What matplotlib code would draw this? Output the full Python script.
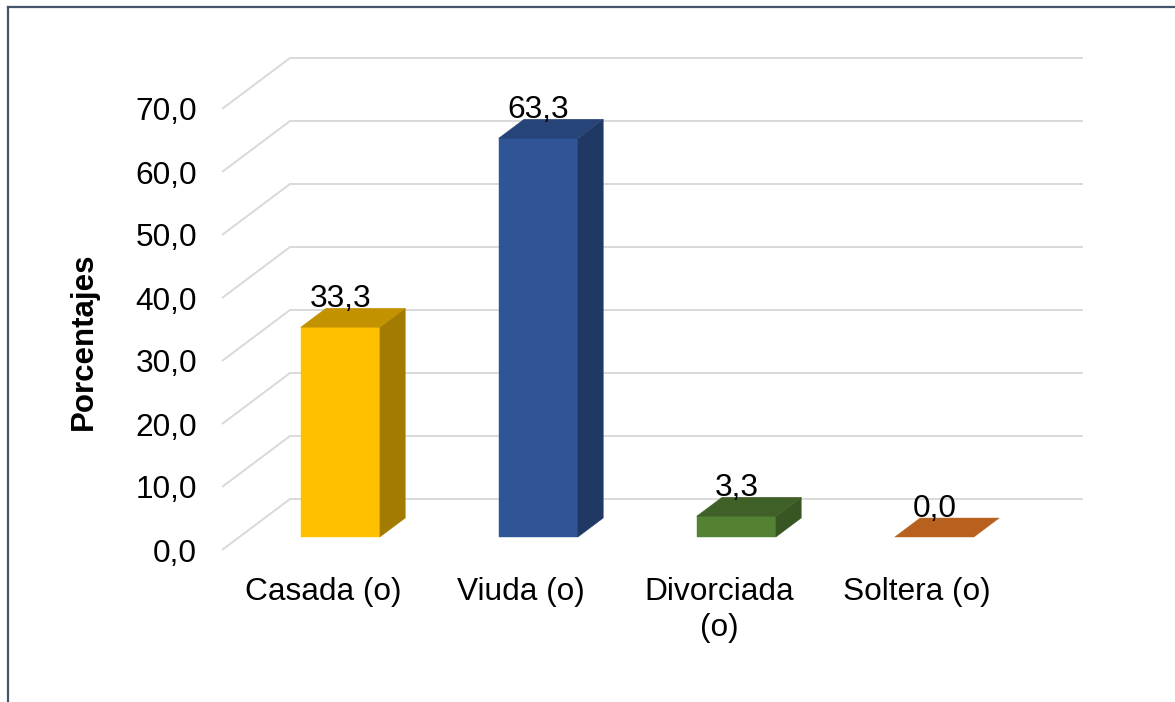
import matplotlib
matplotlib.use("Agg")
import matplotlib.pyplot as plt
from matplotlib.patches import Polygon
from matplotlib.lines import Line2D
import numpy as np

# ---- data ----
categories = ["Casada (o)", "Viuda (o)", "Divorciada\n(o)", "Soltera (o)"]
values = [33.3, 63.3, 3.3, 0.0]
y_ticks = [0, 10, 20, 30, 40, 50, 60, 70]
y_label = "Porcentajes"

front_colors = ["#FFC000", "#2F5597", "#548235", "#C55A11"]
side_colors = ["#A37B00", "#203864", "#375623", "#843C0C"]
top_colors = ["#C29200", "#264478", "#3F6128", "#B8611F"]

plt.rcParams['font.family'] = ['Liberation Sans', 'DejaVu Sans']

W, H = 1175, 702
fig = plt.figure(figsize=(W / 100, H / 100), dpi=100)
fig.patch.set_facecolor("white")

FS = 22.8

# axes: front plane, left edge at px 222, bottom (0) at px 550, top (70) at px 109
ax_l, ax_r_px, ax_b, ax_t = 222, 1015, 550, 109
ax = fig.add_axes([ax_l / W, (H - ax_b) / H, (ax_r_px - ax_l) / W, (ax_b - ax_t) / H])
x0_px, cat_px = 323, 198.0
xmin = (ax_l - x0_px) / cat_px
xmax = (ax_r_px - x0_px) / cat_px
ax.set_xlim(xmin, xmax)
ax.set_ylim(0, 70)
for s in ax.spines.values():
    s.set_visible(False)
ax.patch.set_alpha(0)

# oblique depth vector (full depth)
DX = 68 / cat_px
DY = 51 / 6.3
xr_back = (1083 - x0_px) / cat_px

grid_c = "#D9D9D9"
for v in y_ticks:
    ax.plot([xmin, xmin + DX, xr_back], [v, v + DY, v + DY],
            color=grid_c, lw=1.4, clip_on=False, zorder=1, solid_capstyle='butt')

# bars
d0, d1 = 0.255, 0.627
bw = 0.40
xs = np.arange(len(categories))
ddx, ddy = (d1 - d0) * DX, (d1 - d0) * DY
bottom = d0 * DY
for i, v in enumerate(values):
    xc = xs[i] + d0 * DX
    xl, xr = xc - bw / 2, xc + bw / 2
    top = bottom + v
    if v > 0:
        ax.bar(xc, v, width=bw, bottom=bottom, color=front_colors[i],
               edgecolor=front_colors[i], linewidth=0.3, zorder=3, clip_on=False)
        side = Polygon([(xr, bottom), (xr + ddx, bottom + ddy), (xr + ddx, top + ddy), (xr, top)],
                       closed=True, facecolor=side_colors[i], edgecolor=side_colors[i],
                       linewidth=0.3, zorder=3, clip_on=False)
        ax.add_patch(side)
    topf = Polygon([(xl, top), (xr, top), (xr + ddx, top + ddy), (xl + ddx, top + ddy)],
                   closed=True, facecolor=top_colors[i], edgecolor=top_colors[i],
                   linewidth=0.3, zorder=3, clip_on=False)
    ax.add_patch(topf)
    ax.annotate(f"{v:.1f}".replace('.', ','), xy=(xc, top), xytext=(0, 14.4),
                textcoords='offset points', ha='center', va='baseline',
                fontsize=FS, color='black', zorder=5, annotation_clip=False)

# ticks
ax.set_yticks(y_ticks)
ax.set_yticklabels([f"{v:.1f}".replace('.', ',') for v in y_ticks], fontsize=FS)
ax.set_xticks(xs)
ax.set_xticklabels(categories, fontsize=FS, linespacing=1.25)
ax.tick_params(axis='y', length=0, pad=18)
ax.tick_params(axis='x', length=0, pad=19.5)

fig.text(84 / W, 1 - 341 / H, y_label, rotation=90, fontsize=22.5, fontweight='bold',
         ha='center', va='center')

# outer border (left and top)
bc = "#44546A"
fig.add_artist(Line2D([7.5 / W, 7.5 / W], [0, 1 - 6.5 / H], color=bc, lw=1.6,
                      transform=fig.transFigure))
fig.add_artist(Line2D([7.5 / W, 1], [1 - 6.5 / H, 1 - 6.5 / H], color=bc, lw=1.6,
                      transform=fig.transFigure))

fig.savefig("out.png", dpi=100)
